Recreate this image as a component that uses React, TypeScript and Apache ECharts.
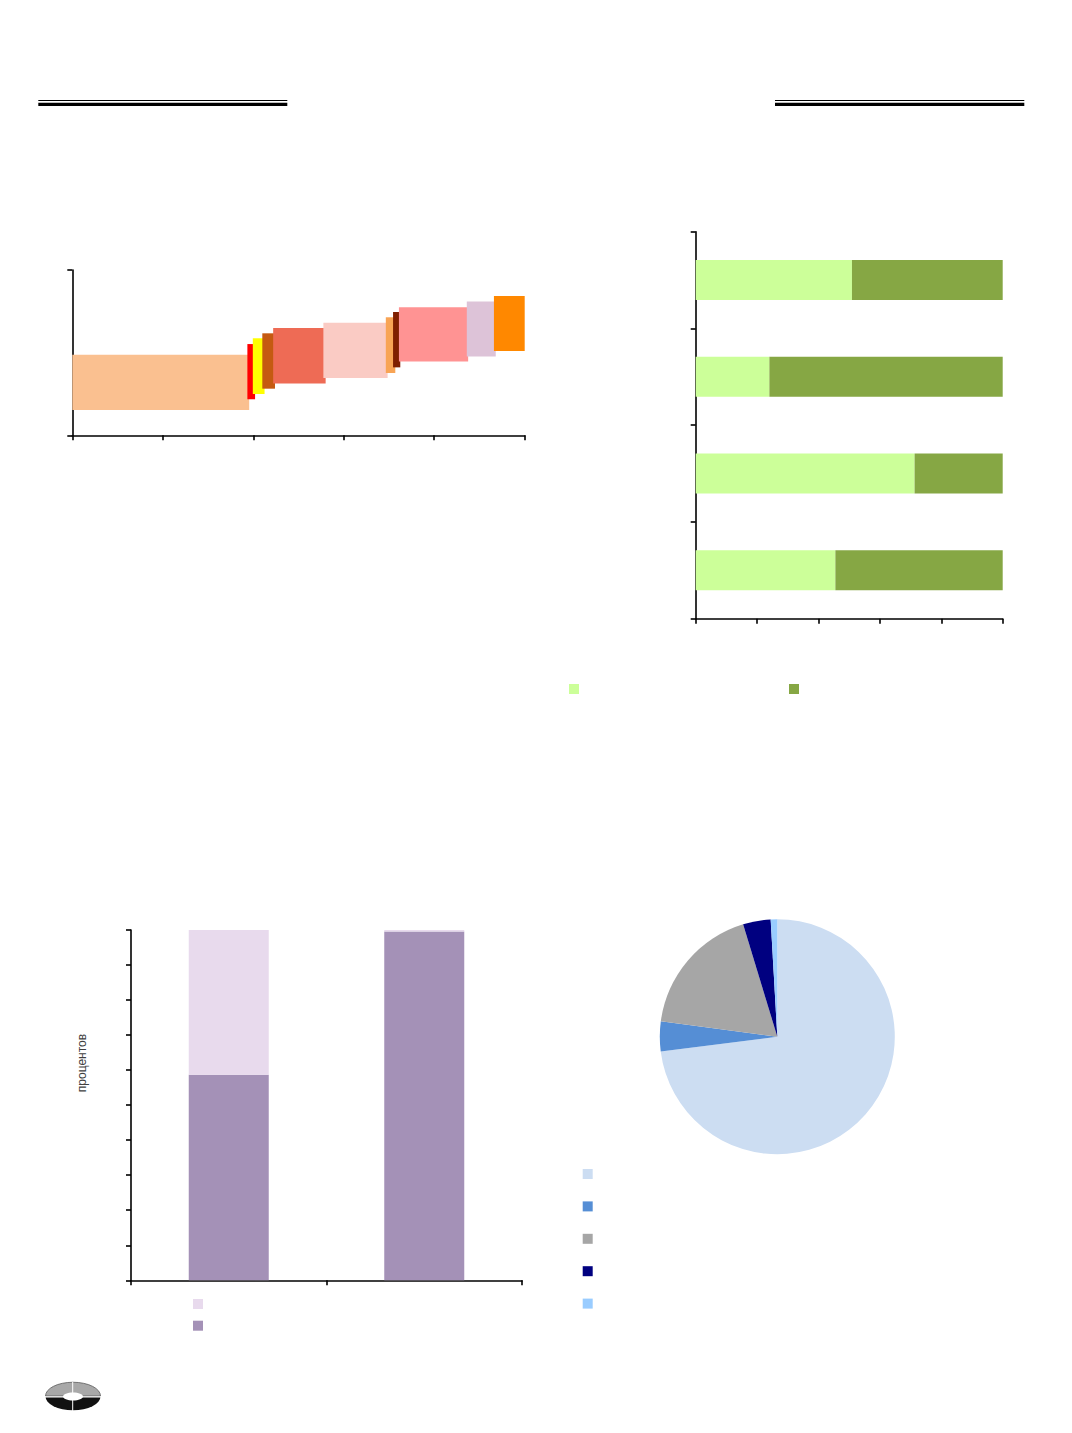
import React, { useEffect, useRef } from 'react';
import * as echarts from 'echarts';

// ---- Chart 1 (top-left): floating boxes ----
const boxX0 = [0, 38.7, 39.9, 42.0, 44.4, 55.5, 69.3, 70.9, 72.2, 87.2, 93.2];
const boxX1 = [39.1, 40.4, 42.5, 44.8, 56.0, 69.7, 71.4, 72.5, 87.5, 93.6, 100];
const boxLow = [15.3, 21.8, 25.0, 28.2, 31.4, 34.7, 37.7, 41.1, 44.7, 47.6, 51.0];
const boxHigh = [48.8, 55.2, 58.7, 61.7, 64.9, 68.1, 71.4, 74.6, 77.4, 81.0, 84.3];
const boxColors = ['#FAC090', '#FF0000', '#FFFF00', '#C55A11', '#EE6B55', '#FACBC4', '#F8A455', '#7F1F00', '#FF9393', '#DDC3D8', '#FF8800'];

// ---- Chart 2 (top-right): 100% stacked horizontal bars ----
const shareCategories = ['1', '2', '3', '4'];
const shareLight = [45.5, 71.3, 24.0, 50.9];
const shareDark = [54.5, 28.7, 76.0, 49.1];
const shareNames = ['Серия 1', 'Серия 2'];
const shareColors = ['#CCFF99', '#86A744'];

// ---- Chart 3 (bottom-left): stacked columns ----
const stackCategories = ['1', '2'];
const stackDark = [58.7, 99.6];
const stackLight = [41.3, 0.4];
const stackNames = ['Доля 1', 'Доля 2'];
const stackColors = ['#E8DAED', '#A491B7'];
const yAxisTitle = 'процентов';

// ---- Chart 4 (bottom-right): pie ----
const pieNames = ['Сектор 1', 'Сектор 2', 'Сектор 3', 'Сектор 4', 'Сектор 5'];
const pieValues = [73.0, 4.1, 18.2, 3.8, 0.9];
const pieColors = ['#CCDDF2', '#558ED5', '#A6A6A6', '#000080', '#99CCFF'];

const axisLine = { show: true, lineStyle: { color: '#000', width: 1.6 } };
const axisTick = { show: true, length: 5, lineStyle: { color: '#000', width: 1.6 } };

function legendItem(name: string, left: number, top: number) {
  return {
    data: [name],
    left,
    top,
    padding: 0,
    icon: 'rect',
    itemWidth: 10,
    itemHeight: 10,
    formatter: () => '',
    textStyle: { fontSize: 10 },
    selectedMode: false,
  };
}

export default function App() {
  const ref = useRef<HTMLDivElement>(null);
  useEffect(() => {
    if (!ref.current) return;
    const chart = echarts.init(ref.current, undefined, { renderer: 'svg' });

    const boxData = boxX0.map((x0, i) => [x0, boxX1[i], boxLow[i], boxHigh[i]]);

    const option: any = {
      animation: false,
      grid: [
        { left: 72.3, top: 270, width: 452.4, height: 165.3 },
        { left: 695.7, top: 231.7, width: 307, height: 387 },
        { left: 131, top: 930, width: 391, height: 350.3 },
      ],
      xAxis: [
        { gridIndex: 0, type: 'value', min: 0, max: 100, interval: 20, axisLine, axisTick, axisLabel: { show: false }, splitLine: { show: false } },
        { gridIndex: 1, type: 'value', min: 0, max: 100, interval: 20, axisLine, axisTick, axisLabel: { show: false }, splitLine: { show: false } },
        { gridIndex: 2, type: 'category', data: stackCategories, axisLine, axisTick, axisLabel: { show: false } },
      ],
      yAxis: [
        { gridIndex: 0, type: 'value', min: 0, max: 100, interval: 100, axisLine, axisTick, axisLabel: { show: false }, splitLine: { show: false } },
        { gridIndex: 1, type: 'category', data: shareCategories, axisLine, axisTick, axisLabel: { show: false } },
        { gridIndex: 2, type: 'value', min: 0, max: 100, interval: 10, axisLine, axisTick, axisLabel: { show: false }, splitLine: { show: false } },
      ],
      legend: [
        legendItem(shareNames[0], 569, 684),
        legendItem(shareNames[1], 789, 684),
        legendItem(stackNames[0], 193, 1299),
        legendItem(stackNames[1], 193, 1320.7),
        ...pieNames.map((n, i) => legendItem(n, 582.7, 1169 + i * 32.4)),
      ],
      series: [
        {
          type: 'custom',
          xAxisIndex: 0,
          yAxisIndex: 0,
          data: boxData,
          encode: { x: [0, 1], y: [2, 3] },
          renderItem: (params: any, api: any) => {
            const p0 = api.coord([api.value(0), api.value(3)]);
            const p1 = api.coord([api.value(1), api.value(2)]);
            return {
              type: 'rect',
              shape: { x: p0[0], y: p0[1], width: p1[0] - p0[0], height: p1[1] - p0[1] },
              style: { fill: boxColors[params.dataIndex] },
            };
          },
        },
        {
          type: 'bar', name: shareNames[0], xAxisIndex: 1, yAxisIndex: 1, stack: 'share', barWidth: 40,
          data: shareLight, itemStyle: { color: shareColors[0] },
        },
        {
          type: 'bar', name: shareNames[1], xAxisIndex: 1, yAxisIndex: 1, stack: 'share', barWidth: 40,
          data: shareDark, itemStyle: { color: shareColors[1] },
        },
        {
          type: 'bar', name: stackNames[1], xAxisIndex: 2, yAxisIndex: 2, stack: 'st', barWidth: 80,
          data: stackDark, itemStyle: { color: stackColors[1] },
        },
        {
          type: 'bar', name: stackNames[0], xAxisIndex: 2, yAxisIndex: 2, stack: 'st', barWidth: 80,
          data: stackLight, itemStyle: { color: stackColors[0] },
        },
        {
          type: 'pie',
          center: [777.3, 1036.7],
          radius: 117.5,
          startAngle: 90,
          clockwise: true,
          label: { show: false },
          labelLine: { show: false },
          emphasis: { disabled: true },
          data: pieNames.map((n, i) => ({ name: n, value: pieValues[i], itemStyle: { color: pieColors[i] } })),
        },
      ],
      graphic: [
        { type: 'line', shape: { x1: 38.3, y1: 100.5, x2: 287.3, y2: 100.5 }, style: { stroke: '#000', lineWidth: 1.2 } },
        { type: 'line', shape: { x1: 38.3, y1: 104.3, x2: 287.3, y2: 104.3 }, style: { stroke: '#000', lineWidth: 3.3 } },
        { type: 'line', shape: { x1: 775, y1: 100.5, x2: 1024.3, y2: 100.5 }, style: { stroke: '#000', lineWidth: 1.2 } },
        { type: 'line', shape: { x1: 775, y1: 104.3, x2: 1024.3, y2: 104.3 }, style: { stroke: '#000', lineWidth: 3.3 } },
        {
          type: 'text', x: 81.5, y: 1063, rotation: Math.PI / 2,
          style: {
            text: yAxisTitle, fontFamily: 'Liberation Sans, Arial, sans-serif', fontSize: 12, fill: '#404040',
            align: 'center', verticalAlign: 'middle',
          },
        },
        // logo
        { type: 'sector', x: 73, y: 1396.5, scaleY: 0.5, shape: { cx: 0, cy: 0, r: 27.5, startAngle: 0, endAngle: Math.PI, clockwise: true }, style: { fill: '#111' } },
        { type: 'sector', x: 73, y: 1396, scaleY: 0.5, shape: { cx: 0, cy: 0, r: 27.5, startAngle: Math.PI, endAngle: Math.PI * 2, clockwise: true }, style: { fill: '#A8A8A8', stroke: '#555', lineWidth: 1 } },
        { type: 'line', shape: { x1: 45, y1: 1396.8, x2: 101, y2: 1396.8 }, style: { stroke: '#fff', lineWidth: 1.2 } },
        { type: 'ellipse', shape: { cx: 73, cy: 1396.5, rx: 10, ry: 4 }, style: { fill: '#fff' } },
        { type: 'line', shape: { x1: 72.7, y1: 1382, x2: 72.7, y2: 1411 }, style: { stroke: '#fff', lineWidth: 1 } },
      ],
    };
    chart.setOption(option);
    return () => chart.dispose();
  }, []);

  return <div ref={ref} style={{ position: 'absolute', left: 0, top: 0, width: 1072, height: 1433 }} />;
}
